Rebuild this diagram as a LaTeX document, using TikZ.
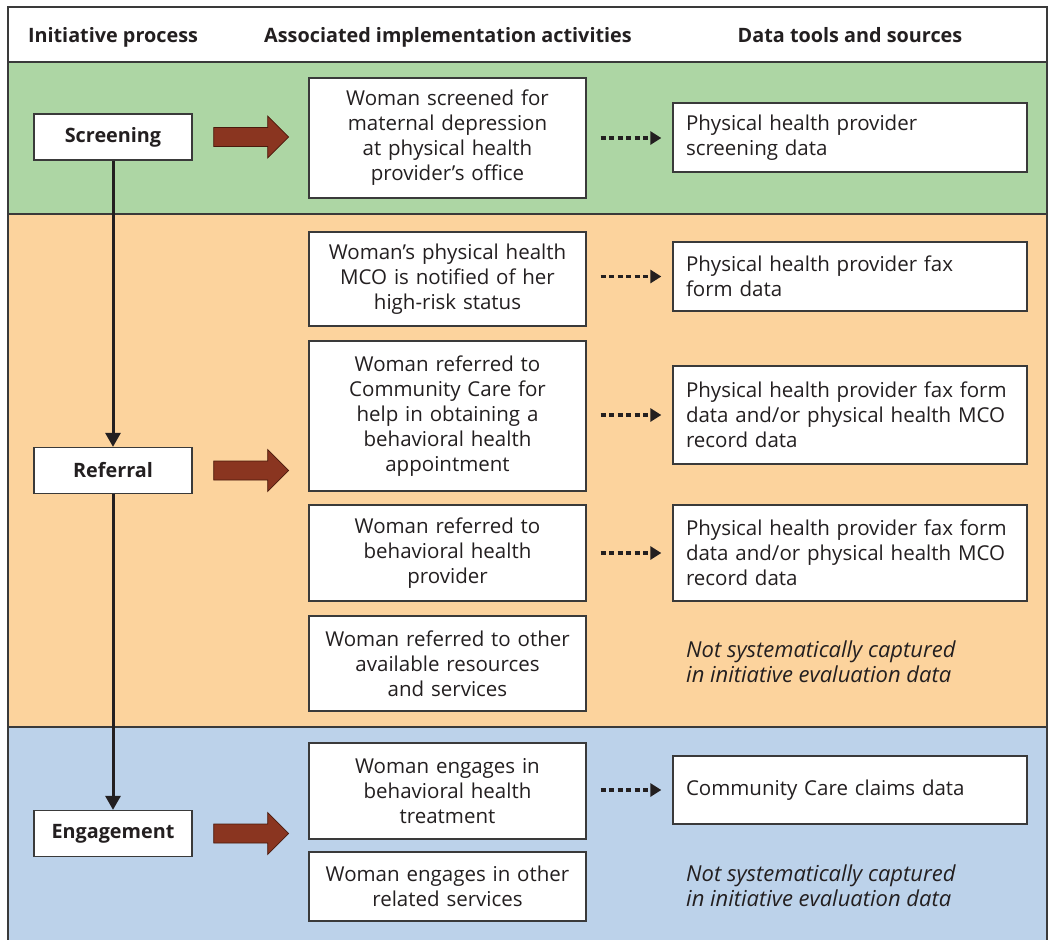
\documentclass[tikz,border=0pt]{standalone}
\usepackage{fontspec}
\setmainfont{Open Sans}
\usetikzlibrary{arrows.meta,calc}
\definecolor{bandgreen}{HTML}{ADD6A4}
\definecolor{bandorange}{HTML}{FCD39D}
\definecolor{bandblue}{HTML}{BCD2EA}
\definecolor{brownarrow}{HTML}{8A3520}
\definecolor{browndark}{HTML}{4A1A0C}
\definecolor{ink}{HTML}{231F20}
\definecolor{framecol}{HTML}{3A3A3A}
\tikzset{
  bigarrow/.pic={\draw[draw=browndark, fill=brownarrow, line width=0.8pt]
    (0,-9.5) -- (54,-9.5) -- (54,-21) -- (75,0) -- (54,21) -- (54,9.5) -- (0,9.5) -- cycle;}
}
\begin{document}
\begin{tikzpicture}[x=1pt,y=-1pt, font=\fontsize{20.5}{25}\selectfont, text=ink,
 procbox/.style={draw=framecol, fill=white, line width=1.3pt, minimum width=158pt, minimum height=46pt, font=\bfseries\fontsize{19.8}{25}\selectfont, inner sep=0pt},
 actbox/.style={draw=framecol, fill=white, line width=1.3pt, minimum width=277pt, text width=271pt, align=center, inner xsep=3pt, inner ysep=0pt},
 databox/.style={draw=framecol, fill=white, line width=1.3pt, text width=328pt, inner xsep=13pt, inner ysep=0pt, align=left, minimum width=354pt},
 flowarrow/.style={draw=ink, line width=3pt, -{Triangle[width=15pt,length=14pt]}},
 dotarrow/.style={draw=ink, line width=3.2pt, dash pattern=on 5pt off 3.5pt, -{Triangle[width=13pt,length=11pt]}, shorten <=14pt, shorten >=11pt},
 note/.style={font=\itshape\fontsize{22}{25}\selectfont, align=left, anchor=west, inner sep=0pt},
 head/.style={font=\bfseries\fontsize{19.8}{25}\selectfont, inner sep=0pt, anchor=base}
]
\useasboundingbox (0,0) rectangle (1050,940);
% bands
\fill[white] (8,7) rectangle (1047,62);
\fill[bandgreen] (8,62) rectangle (1047,214);
\fill[bandorange] (8,214) rectangle (1047,727);
\fill[bandblue] (8,727) rectangle (1047,940);
\draw[framecol, line width=1.8pt] (8,940) -- (8,7) -- (1047,7) -- (1047,940);
\draw[framecol, line width=1.8pt] (8,62) -- (1047,62);
\draw[framecol, line width=1.8pt] (8,214) -- (1047,214);
\draw[framecol, line width=1.8pt] (8,727) -- (1047,727);
% headers
\node[head] (h1) at (113,42) {Initiative process};
\node[head] (h2) at (448,42) {Associated implementation activities};
\node[head] (h3) at (850,42) {Data tools and sources};
% process boxes
\node[procbox] (screen) at (113,137) {Screening};
\node[procbox] (refer) at (113,470.5) {Referral};
\node[procbox] (engage) at (113,833.5) {Engagement};
\draw[flowarrow] (screen.south) -- (refer.north);
\draw[flowarrow] (refer.south) -- (engage.north);
% big arrows
\pic at ($(screen.east)+(21,0)$) {bigarrow};
\pic at ($(refer.east)+(21,0)$) {bigarrow};
\pic at ($(engage.east)+(21,0)$) {bigarrow};
% activities
\node[actbox, minimum height=120pt] (a1) at (447.5,138) {Woman screened for\\maternal depression\\at physical health\\provider’s office};
\node[actbox, minimum height=94pt] (a2) at (447.5,279) {Woman’s physical health\\MCO is notified of her\\high-risk status};
\node[actbox, minimum height=150pt] (a3) at (447.5,416) {Woman referred to\\Community Care for\\help in obtaining a\\behavioral health\\appointment};
\node[actbox, minimum height=96pt] (a4) at (447.5,553) {Woman referred to\\behavioral health\\provider};
\node[actbox, minimum height=95pt] (a5) at (447.5,663.5) {Woman referred to other\\available resources\\and services};
\node[actbox, minimum height=96pt] (a6) at (447.5,791) {Woman engages in\\behavioral health\\treatment};
\node[actbox, minimum height=69pt] (a7) at (447.5,886.5) {Woman engages in other\\related services};
% data
\node[databox, minimum height=69pt] (d1) at (850,137.5) {Physical health provider\\screening data};
\node[databox, minimum height=69pt] (d2) at (850,276.5) {Physical health provider fax\\form data};
\node[databox, minimum height=98pt] (d3) at (850,415) {Physical health provider fax form\\data and/or physical health MCO\\record data};
\node[databox, minimum height=96pt] (d4) at (850,553) {Physical health provider fax form\\data and/or physical health MCO\\record data};
\node[databox, minimum height=68pt] (d6) at (850,790) {Community Care claims data};
\node[note] (n5) at (686,661.5) {Not systematically captured\\in initiative evaluation data};
\node[note] (n7) at (686,886) {Not systematically captured\\in initiative evaluation data};
% dotted arrows
\draw[dotarrow] (a1.east) -- (a1.east -| d1.west);
\draw[dotarrow] (a2.east |- d2.west) -- (d2.west);
\draw[dotarrow] (a3.east |- d3.west) -- (d3.west);
\draw[dotarrow] (a4.east) -- (d4.west);
\draw[dotarrow] (a6.east |- d6.west) -- (d6.west);
\end{tikzpicture}
\end{document}
